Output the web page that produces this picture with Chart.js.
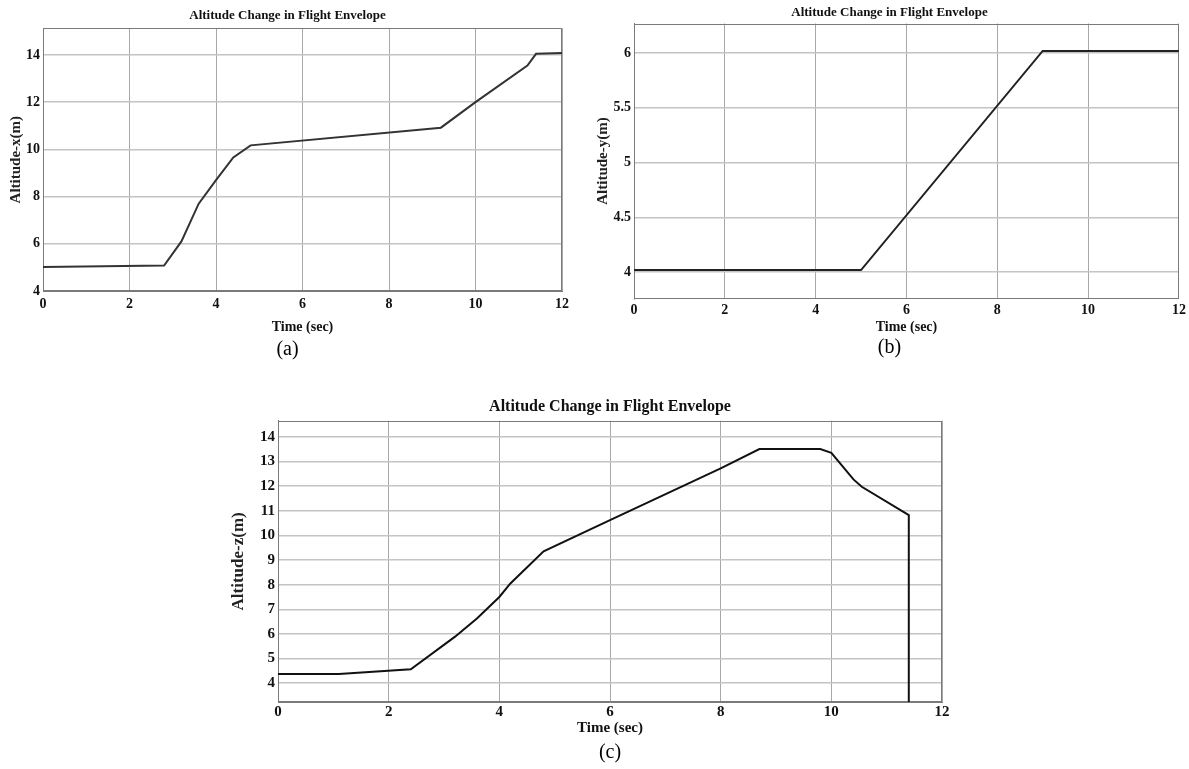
<!DOCTYPE html>
<html>
<head>
<meta charset="utf-8">
<script src="https://cdn.jsdelivr.net/npm/chart.js@4"></script>
<style>
  html, body { margin:0; padding:0; background:#fff; }
  body { width:1189px; height:769px; position:relative; overflow:hidden; }
  canvas { position:absolute; }
</style>
</head>
<body>
<canvas id="chartA"></canvas>
<canvas id="chartB"></canvas>
<canvas id="chartC"></canvas>
<script>
// altitude vs time
const timeA = [0, 2.8, 3.2, 3.6, 4.0, 4.4, 4.8, 9.2, 10.0, 11.2, 11.4, 12];
const altA  = [5.02, 5.08, 6.1, 7.7, 8.7, 9.66, 10.17, 10.92, 12.0, 13.55, 14.05, 14.08];

const timeB = [0, 5, 9, 12];
const altB  = [4.02, 4.02, 6.02, 6.02];

const timeC = [0, 1.1, 2.4, 3.2, 3.6, 4.0, 4.2, 4.8, 6.0, 8.0, 8.7, 9.8, 10.0, 10.4, 10.55, 11.4, 11.4];
const altC  = [4.38, 4.38, 4.57, 5.89, 6.64, 7.5, 8.05, 9.35, 10.62, 12.72, 13.5, 13.5, 13.35, 12.27, 11.97, 10.82, 3.24];

const xTicks  = [0, 2, 4, 6, 8, 10, 12];
const yTicksA = [4, 6, 8, 10, 12, 14];
const yTicksB = [4, 4.5, 5, 5.5, 6];
const yTicksC = [4, 5, 6, 7, 8, 9, 10, 11, 12, 13, 14];

const titleText = 'Altitude Change in Flight Envelope';
const serif = "'Liberation Serif', 'Times New Roman', serif";

function pts(xs, ys){ return xs.map((x,i)=>({x:x, y:ys[i]})); }

// box round the plot area
const frameBox = {
  id:'frameBox',
  beforeDatasetsDraw(chart){
    const {ctx, chartArea:a} = chart;
    ctx.save();
    ctx.strokeStyle = '#7a7a7a';
    ctx.lineWidth = 1;
    ctx.strokeRect(Math.round(a.left)+0.5, Math.round(a.top)+0.5, Math.round(a.width)-1, Math.round(a.height)-1);
    ctx.restore();
  }
};

function panel(id, f, xs, ys, yTicks, yMin, yMax, yTitle, caption, fonts, lineColor){
  const cv = document.getElementById(id);
  cv.width = f.width; cv.height = f.height;
  cv.style.left = f.left + 'px'; cv.style.top = f.top + 'px';

  const capTop = f.capY - fonts.cap*0.6;           // top of caption block
  const tTop = f.titleY - f.top - fonts.title*0.6; // title padding top

  return new Chart(cv.getContext('2d'), {
    type:'line',
    data:{ datasets:[{
      data: pts(xs, ys),
      borderColor: lineColor,
      borderWidth: 2,
      pointRadius: 0,
      tension: 0,
      fill: false
    }]},
    options:{
      responsive:false,
      animation:false,
      events:[],
      layout:{ padding:0 },
      plugins:{
        legend:{display:false},
        tooltip:{enabled:false},
        title:{
          display:true, text:titleText, color:'#111',
          font:{family:serif, size:fonts.title, weight:'bold'},
          padding:{top:tTop, bottom:(f.plotT - f.top) - tTop - fonts.title*1.2}
        },
        subtitle:{
          display:true, text:caption, position:'bottom', color:'#000',
          font:{family:serif, size:fonts.cap, weight:'normal'},
          padding:{top:0, bottom:(f.top + f.height) - f.capY - fonts.cap*0.6}
        }
      },
      scales:{
        x:{
          type:'linear', min:0, max:12,
          afterBuildTicks: s => { s.ticks = xTicks.map(v=>({value:v})); },
          afterFit: s => { s.height = capTop - f.plotB; },
          ticks:{
            color:'#111', padding: f.tickY - f.plotB - fonts.tick*0.6,
            font:{family:serif, size:fonts.tick, weight:'bold'},
            callback: v => String(v)
          },
          grid:{ color:'#a8a8a8', lineWidth:1, drawTicks:false },
          border:{ display:true, color:'#7a7a7a' },
          title:{
            display:true, text:'Time (sec)', color:'#111',
            font:{family:serif, size:fonts.xaxis, weight:'bold'},
            padding:{top:0, bottom: capTop - f.xTitleY - fonts.xaxis*0.6}
          }
        },
        y:{
          type:'linear', min:yMin, max:yMax,
          afterBuildTicks: s => { s.ticks = yTicks.map(v=>({value:v})); },
          afterFit: s => { s.width = f.plotL - f.left; },
          ticks:{
            color:'#111', padding:3,
            font:{family:serif, size:fonts.tick, weight:'bold'},
            callback: v => String(v)
          },
          grid:{ color:'#c4c4c4', lineWidth:1.6, drawTicks:false },
          border:{ display:true, color:'#7a7a7a' },
          title:{
            display:true, text:yTitle, color:'#222',
            font:{family:serif, size:fonts.yaxis, weight:'bold'},
            padding:{top: f.yTitleX - f.left - fonts.yaxis*0.6, bottom:0}
          }
        },
        yr:{
          type:'linear', position:'right',
          afterFit: s => { s.width = (f.left + f.width) - f.plotR; },
          ticks:{display:false},
          grid:{display:false, drawTicks:false},
          border:{display:false}
        }
      }
    },
    plugins:[frameBox]
  });
}

const frameA = {left:0, top:0, width:575, height:367, plotL:43, plotT:28.3, plotR:562, plotB:291,
                titleY:16, tickY:304, xTitleY:327, capY:350, yTitleX:16};
const frameB = {left:590, top:0, width:599, height:365, plotL:634, plotT:23.5, plotR:1179, plotB:298.5,
                titleY:12.5, tickY:310, xTitleY:327, capY:348, yTitleX:603};
const frameC = {left:228, top:392, width:764, height:376, plotL:278, plotT:420.7, plotR:942, plotB:702,
                titleY:407, tickY:712, xTitleY:728, capY:753, yTitleX:239};

const fontsAB = {title:13, tick:14, xaxis:14, yaxis:15, cap:20};
const fontsC  = {title:16, tick:15, xaxis:15, yaxis:17, cap:20};

panel('chartA', frameA, timeA, altA, yTicksA, 4, 15.13, 'Altitude-x(m)', '(a)', fontsAB, '#333');
panel('chartB', frameB, timeB, altB, yTicksB, 3.76, 6.27, 'Altitude-y(m)', '(b)', fontsAB, '#222');
panel('chartC', frameC, timeC, altC, yTicksC, 3.24, 14.65, 'Altitude-z(m)', '(c)', fontsC, '#111');
</script>
</body>
</html>
